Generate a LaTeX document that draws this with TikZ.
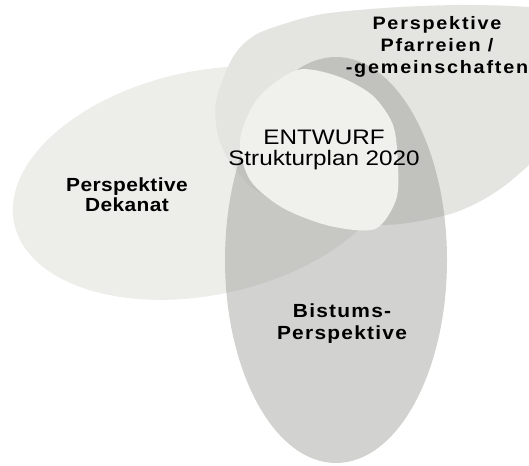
\documentclass[tikz,border=0pt]{standalone}
\usepackage{fontspec}
\setmainfont{Liberation Sans}
\newfontfamily\dekanatfont[LetterSpace=2]{Liberation Sans}
\newfontfamily\pfarrfont[LetterSpace=9]{Liberation Sans}
\newfontfamily\bistumfont[LetterSpace=6]{Liberation Sans}
\definecolor{dekanatgray}{RGB}{237,237,233}
\definecolor{pfarrgray}{RGB}{228,228,224}
\definecolor{bistumgray}{RGB}{140,140,136}
\definecolor{entwurfgray}{RGB}{240,240,236}
\begin{document}
\begin{tikzpicture}[x=1pt,y=1pt,
  textlabel/.style={align=center,inner sep=0pt,transform shape,xscale=1.1}]
  \useasboundingbox (0,0) rectangle (529,465);
  \fill[dekanatgray] (205,282) ellipse [x radius=195,y radius=112,rotate=12];
  \fill[pfarrgray] plot[smooth cycle] coordinates {(218,330) (216,364) (233,408) (257,431) (304,447) (338,453) (400,458) (470,460) (540,456) (568,435) (578,400) (572,360) (553,325) (529,300) (503,278) (477,262) (447,250) (400,241) (355,241) (300,253) (255,275) (230,303)};
  \fill[bistumgray,fill opacity=0.39] (336,205) ellipse [x radius=111,y radius=203];
  \fill[entwurfgray] plot[smooth cycle] coordinates {(297,395) (337,389) (372,370) (393,340) (398,300) (396,265) (375,236) (330,239) (283,257) (250,285) (240,325) (258,367)};
  \node[textlabel,font={\dekanatfont\bfseries\fontsize{19}{20}\selectfont}] (dekanat) at (127,270) {Perspektive\\Dekanat};
  \node[textlabel,font={\pfarrfont\bfseries\fontsize{18}{22}\selectfont}] (pfarreien) at (437,418) {Perspektive\\Pfarreien /\\-gemeinschaften};
  \node[textlabel,xscale=1.05,font={\fontsize{21}{21}\selectfont}] (entwurf) at (324,315) {ENTWURF\\Strukturplan 2020};
  \node[textlabel,font={\bistumfont\bfseries\fontsize{19}{22}\selectfont}] (bistum) at (342,141) {Bistums-\\Perspektive};
\end{tikzpicture}
\end{document}
